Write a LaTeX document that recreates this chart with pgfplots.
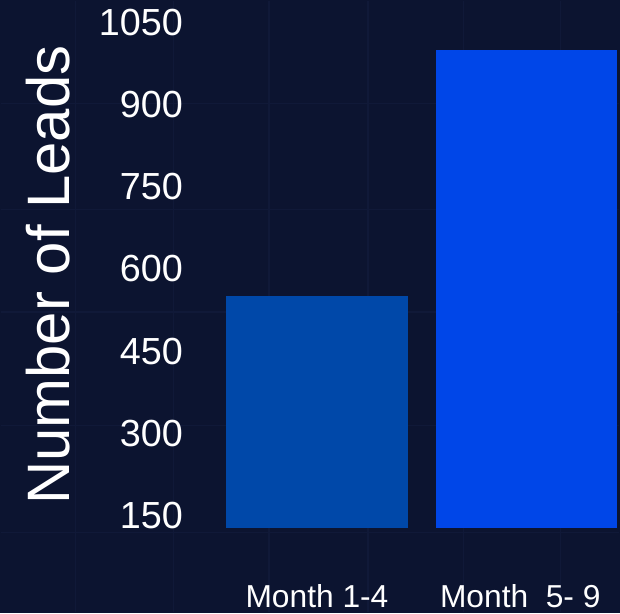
\documentclass[border=0pt]{standalone}
\usepackage{fontspec}
\setmainfont{Liberation Sans}
\usepackage{pgfplots}
\pgfplotsset{compat=1.18}

\definecolor{bg}{HTML}{0C1430}
\definecolor{gridc}{HTML}{101938}
\definecolor{barA}{HTML}{0048A9}
\definecolor{barB}{HTML}{0046E8}
\pagecolor{bg}

\begin{document}
\begin{tikzpicture}
  \begin{axis}[
    scale only axis,
    width=310pt, height=306.5pt,
    xmin=-1.5095, xmax=1.4429,
    ymin=-26.6, ymax=1089.4,
    axis background/.style={fill=bg},
    axis line style={draw=none},
    major tick length=0pt, minor tick length=0pt,
    xtick={0,0.97},
    xticklabels={Month 1-4, Month\ \ 5- 9},
    ytick={150,300,450,600,750,900,1050},
    minor xtick={-1.152,-0.686,-0.229,0.243,0.700,1.162},
    minor ytick={119,313.8,521.4,708.9,901.9},
    minor grid style={gridc, line width=0.6pt},
    grid=minor,
    /pgf/number format/assume math mode=true,
    /pgf/number format/1000 sep={},
    xticklabel style={anchor=base, inner sep=0pt, yshift=2.5pt,
      text=white, font=\fontsize{15.9}{18}\selectfont},
    yticklabel style={anchor=east, inner sep=0pt, xshift=91.5pt,
      text=white, font=\fontsize{18.9}{22}\selectfont},
    ylabel={Number of Leads},
    ylabel style={at={(axis description cs:0.0774,0.5514)}, rotate=0,
      anchor=center, inner sep=0pt, text=white,
      font=\fontsize{30}{34}\selectfont},
    clip=true,
  ]
    % bars drawn from the visible floor (about 128) up to the value
    \addplot[fill=barA, draw=none] coordinates
      {(-0.433,128.2) (-0.433,550) (0.433,550) (0.433,128.2)};
    \addplot[fill=barB, draw=none] coordinates
      {(0.567,128.2) (0.567,1000) (1.433,1000) (1.433,128.2)};
  \end{axis}
\end{tikzpicture}
\end{document}
